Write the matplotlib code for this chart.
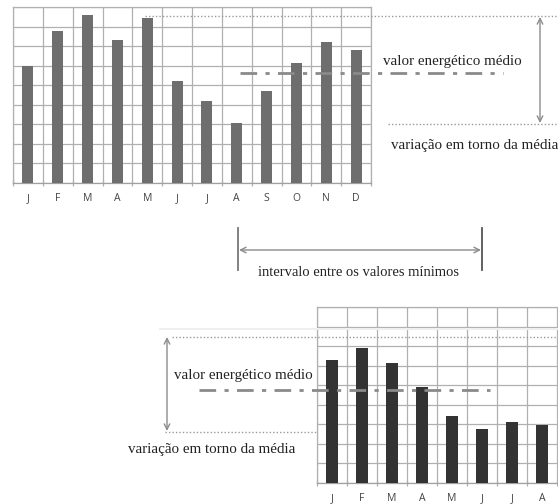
import matplotlib
matplotlib.use("Agg")
import matplotlib.pyplot as plt
import numpy as np

# ---- data ----
months_top = ["J", "F", "M", "A", "M", "J", "J", "A", "S", "O", "N", "D"]
values_top = [6.0, 7.77, 8.58, 7.31, 8.42, 5.23, 4.19, 3.09, 4.69, 6.12, 7.21, 6.82]

months_bottom = ["J", "F", "M", "A", "M", "J", "J", "A"]
values_bottom = [6.29, 6.92, 6.12, 4.91, 3.42, 2.76, 3.11, 2.97]

label_mean = "valor energético médio"
label_var = "variação em torno da média"
label_interval = "intervalo entre os valores mínimos"

W, H = 558, 504
DPI = 100
fig = plt.figure(figsize=(W / DPI, H / DPI), dpi=DPI)
fig.patch.set_facecolor("white")

GRID = "#b0b0b0"
SERIF = ["Liberation Serif", "DejaVu Serif"]
SANS = ["Open Sans", "DejaVu Sans"]


def px_axes(left, top, right, bottom):
    return [left / W, 1 - bottom / H, (right - left) / W, (bottom - top) / H]


def draw_bar_chart(ax, labels, values, color, xmax_extra=0.0, right_spine=True):
    n = len(labels)
    x = np.arange(n)
    ax.bar(x, values, width=0.37, color=color, zorder=3)
    ax.set_xlim(-0.5, n - 0.5 + xmax_extra)
    ax.set_ylim(0, 9)
    ax.set_yticks(np.arange(0, 10))
    ax.set_yticklabels([])
    ax.set_xticks(x)
    ax.set_xticklabels(labels, fontsize=7.5, color="#444444", family=SANS)
    ax.set_xticks(np.arange(-0.5, n, 1.0), minor=True)
    ax.tick_params(axis="x", which="major", length=0, pad=7.5)
    ax.tick_params(axis="x", which="minor", length=5, direction="inout", color=GRID, width=0.9)
    ax.tick_params(axis="y", length=0)
    ax.grid(True, axis="y", which="major", color=GRID, lw=0.9, zorder=0)
    ax.grid(True, axis="x", which="minor", color=GRID, lw=0.9, zorder=0)
    for s in ["left", "top", "right"]:
        ax.spines[s].set_color(GRID)
        ax.spines[s].set_linewidth(0.9)
    ax.spines["bottom"].set_color("#a0a0a0")
    ax.spines["bottom"].set_linewidth(0.9)
    if not right_spine:
        ax.spines["right"].set_visible(False)
    ax.set_axisbelow(True)


# ---- top chart ----
ax1 = fig.add_axes(px_axes(13, 7, 371, 183))
draw_bar_chart(ax1, months_top, values_top, "#6e6e6e")

# ---- bottom chart ----
ax2 = fig.add_axes(px_axes(317, 307, 317 + 30 * 8.05, 483))
draw_bar_chart(ax2, months_bottom, values_bottom, "#333333", xmax_extra=0.05, right_spine=False)

# ---- overlay for annotations (pixel coordinates) ----
ov = fig.add_axes([0, 0, 1, 1], facecolor="none")
ov.set_xlim(0, W)
ov.set_ylim(H, 0)
ov.axis("off")

DOT = "#9a9a9a"
DASHDOT = "#8a8a8a"
ARROW = "#8c8c8c"
TXT = "#222222"
FS = 10.8

# top chart annotations
ov.plot([145, W], [16, 16], ls=(0, (1, 1.5)), color=DOT, lw=1)
ov.plot([388, W], [124, 124], ls=(0, (1, 1.5)), color=DOT, lw=1)
ov.plot([240, 503], [73, 73], ls=(0, (6, 3, 1.5, 3)), color=DASHDOT, lw=2)
ov.annotate("", xy=(540, 17), xytext=(540, 123),
            arrowprops=dict(arrowstyle="<->", color=ARROW, lw=1, shrinkA=0, shrinkB=0,
                            mutation_scale=10))
ov.text(383, 61, label_mean, fontsize=FS, family=SERIF, va="center", ha="left", color=TXT)
ov.text(391, 146, label_var, fontsize=FS, family=SERIF, va="center", ha="left", color=TXT)

# middle interval annotation
ov.plot([238, 238], [228, 270], color="#777777", lw=1.3)
ov.plot([482, 482], [228, 270], color="#555555", lw=1.3)
ov.annotate("", xy=(239, 250), xytext=(481, 250),
            arrowprops=dict(arrowstyle="<->", color=ARROW, lw=1, shrinkA=0, shrinkB=0,
                            mutation_scale=10))
ov.text(359, 272, label_interval, fontsize=10.5, family=SERIF, va="center", ha="center", color=TXT)

# bottom chart annotations
ov.plot([160, W], [329, 329], color="#efefef", lw=1.5)
ov.plot([172, W], [337, 337], ls=(0, (1, 1.5)), color=DOT, lw=1)
ov.plot([165, 317], [431.5, 431.5], ls=(0, (1, 1.5)), color=DOT, lw=1)
ov.plot([199, 490], [389.5, 389.5], ls=(0, (6, 3, 1.5, 3)), color=DASHDOT, lw=2)
ov.annotate("", xy=(167, 337), xytext=(167, 431),
            arrowprops=dict(arrowstyle="<->", color=ARROW, lw=1, shrinkA=0, shrinkB=0,
                            mutation_scale=10))
ov.text(174, 375, label_mean, fontsize=FS, family=SERIF, va="center", ha="left", color=TXT)
ov.text(128, 450, label_var, fontsize=FS, family=SERIF, va="center", ha="left", color=TXT)

fig.savefig("out.png", dpi=DPI)
